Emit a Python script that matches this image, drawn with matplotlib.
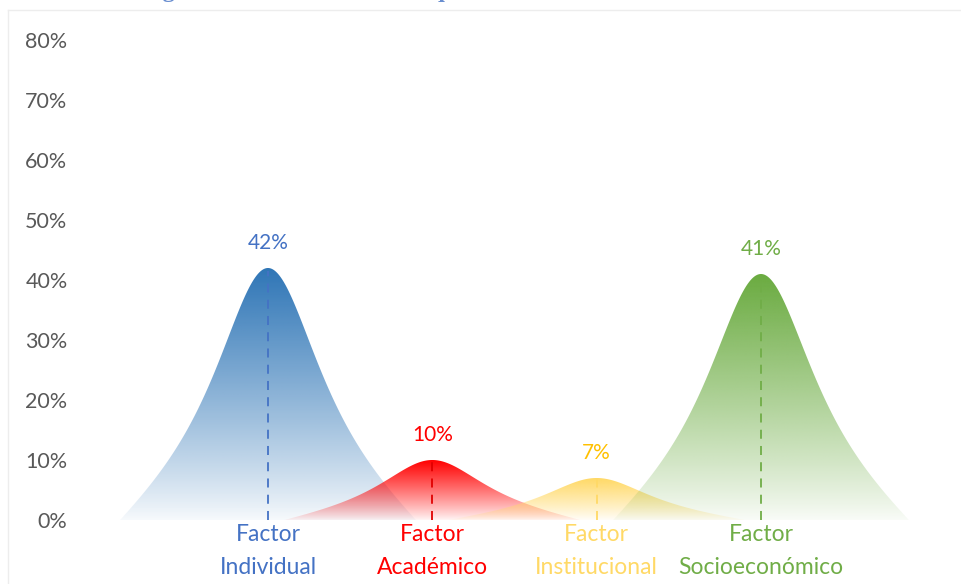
import numpy as np
import matplotlib.pyplot as plt
from matplotlib.patches import Polygon
from matplotlib.lines import Line2D
from matplotlib.colors import to_rgb

# datos del grafico
categorias = ["Factor\nIndividual", "Factor\nAcadémico", "Factor\nInstitucional", "Factor\nSocioeconómico"]
valores = [0.42, 0.10, 0.07, 0.41]
etiquetas = ["42%", "10%", "7%", "41%"]
titulo = "Figura 4. Resumen factores que afectan la decisión de desertar"

# estilos
relleno = ["#2E75B6", "#FF0000", "#FFD966", "#6AAB40"]
linea = ["#4472C4", "#E00000", "#FFD966", "#70AD47"]
texto_valor = ["#4472C4", "#FF0000", "#FFC000", "#70AD47"]
texto_cat = ["#4472C4", "#FF0000", "#FFD966", "#70AD47"]


def campana(t, a=0.44):
    # forma de montaña: colas anchas que bajan a cero en los bordes
    f = 1 / (1 + (t / a) ** 2)
    return np.clip(f * (1 - np.abs(t) ** 4), 0, None)


W, H = 962, 584
fig = plt.figure(figsize=(W / 100, H / 100), dpi=100)
izq, der, arriba, abajo = 80, 950, 40, 520
ax = fig.add_axes([izq / W, 1 - abajo / H, (der - izq) / W, (abajo - arriba) / H])
paso, c0 = 164.33, 268
ancho = 0.90

for i, v in enumerate(valores):
    xs = np.linspace(i - ancho, i + ancho, 400)
    ys = v * campana((xs - i) / ancho)
    poly = Polygon(np.column_stack([xs, ys]), closed=True, facecolor="none", edgecolor="none")
    ax.add_patch(poly)
    # degradado vertical del color hacia blanco
    grad = np.linspace(0, 1, 256)[:, None]
    img = np.zeros((256, 1, 4))
    img[..., :3] = to_rgb(relleno[i])
    img[..., 3] = 0.04 + 0.96 * grad ** 0.9
    im = ax.imshow(img, extent=[i - ancho, i + ancho, 0, v], origin="lower",
                   aspect="auto", interpolation="bilinear", zorder=2 + i)
    im.set_clip_path(poly)
    ax.plot([i, i], [0, v * 0.99], ls=(0, (5, 4)), color=linea[i], lw=1.3, zorder=10)
    ax.text(i, v + 0.041, etiquetas[i], ha="center", va="center", color=texto_valor[i],
            fontsize=15, family=["Lato", "DejaVu Sans"])
    ax.text(i, -0.006, categorias[i], ha="center", va="top", color=texto_cat[i],
            fontsize=16.5, linespacing=1.7, family=["Lato", "DejaVu Sans"])

ax.set_xlim((izq - c0) / paso, (der - c0) / paso)
ax.set_ylim(0, 0.8)
ax.set_yticks(np.arange(0, 0.81, 0.1))
ax.set_yticklabels([f"{t:.0%}" for t in np.arange(0, 0.81, 0.1)])
ax.set_xticks([])
ax.tick_params(axis="y", length=0, pad=9, labelsize=15.5, labelcolor="#595959")
for lab in ax.get_yticklabels():
    lab.set_family(["Lato", "DejaVu Sans"])
for s in ax.spines.values():
    s.set_visible(False)

# borde del area del grafico
fig.add_artist(Line2D([8 / W, 8 / W], [0, 1 - 10 / H], color="#EDEDED", lw=1))
fig.add_artist(Line2D([8 / W, 1], [1 - 10 / H, 1 - 10 / H], color="#EDEDED", lw=1))

# titulo cortado en la parte superior
fig.text(0.483, 1 + 3.5 / H, titulo, ha="center", va="baseline", color="#4472C4",
         fontsize=17.5, fontweight="bold", alpha=0.8, family=["Liberation Serif", "DejaVu Serif"])

plt.savefig("out.png", dpi=100)
